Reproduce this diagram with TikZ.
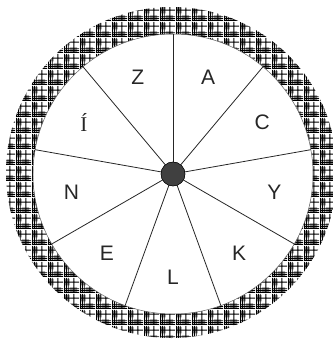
\documentclass[tikz,border=0pt]{standalone}
\usepackage{fontspec}
\setmainfont{Liberation Sans}
\newfontfamily\serifI{Liberation Serif}
\usetikzlibrary{patterns}
\pgfdeclarepatternformonly{plaidgray}{\pgfpointorigin}{\pgfpoint{16pt}{16pt}}{\pgfpoint{16pt}{16pt}}{%
  \pgfpathrectangle{\pgfpoint{6pt}{1pt}}{\pgfpoint{8pt}{5pt}}%
  \pgfpathrectangle{\pgfpoint{1pt}{8pt}}{\pgfpoint{5pt}{7pt}}%
  \pgfusepath{fill}}
\pgfdeclarepatternformonly{plaidblack}{\pgfpointorigin}{\pgfpoint{16pt}{16pt}}{\pgfpoint{16pt}{16pt}}{%
  \pgfpathrectangle{\pgfpoint{0pt}{0pt}}{\pgfpoint{1pt}{16pt}}%
  \pgfpathrectangle{\pgfpoint{2pt}{0pt}}{\pgfpoint{1pt}{16pt}}%
  \pgfpathrectangle{\pgfpoint{4pt}{0pt}}{\pgfpoint{1pt}{16pt}}%
  \pgfpathrectangle{\pgfpoint{10pt}{0pt}}{\pgfpoint{1pt}{16pt}}%
  \pgfpathrectangle{\pgfpoint{0pt}{0pt}}{\pgfpoint{16pt}{1pt}}%
  \pgfpathrectangle{\pgfpoint{0pt}{2pt}}{\pgfpoint{16pt}{1pt}}%
  \pgfpathrectangle{\pgfpoint{0pt}{4pt}}{\pgfpoint{16pt}{1pt}}%
  \pgfpathrectangle{\pgfpoint{0pt}{11pt}}{\pgfpoint{16pt}{1pt}}%
  \pgfusepath{fill}}
\tikzset{
  spoke/.style={draw=black!85, line width=0.8pt},
  letter/.style={font=\fontsize{21}{21}\selectfont, inner sep=0pt, text=black!85},
  hub/.style={circle, fill=black!75, draw=black, minimum size=24pt, inner sep=0pt}
}
\begin{document}
\begin{tikzpicture}[x=1pt,y=1pt]
\useasboundingbox (-173,-166) rectangle (159,174);
% ring
\fill[white, even odd rule] (-1.5,1.5) circle (165.5) (0,0) circle (140);
\path[pattern=plaidgray, pattern color=black!45, even odd rule] (-1.5,1.5) circle (165.5) (0,0) circle (140);
\path[pattern=plaidblack, pattern color=black, even odd rule] (-1.5,1.5) circle (165.5) (0,0) circle (140);
\draw[black!60, line width=0.5pt] (0,0) circle (140);
% spokes
\foreach \a [count=\i] in {90,50,10,-30,-70,-110,-150,170,130}
  \coordinate (r\i) at (\a:140);
\node[hub] (h) at (0,0) {};
\foreach \i in {1,...,9}
  \draw[spoke] (h.center) -- (r\i);
\node[hub] at (0,0) {};
% letters
\node[letter] (lZ) at (110:103) {Z};
\node[letter] (lA) at (70:103) {A};
\node[letter] (lC) at (30:103) {C};
\node[letter] (lY) at (-10:103) {Y};
\node[letter] (lK) at (-50:103) {K};
\node[letter] (lL) at (-90:103) {L};
\node[letter] (lE) at (-130:103) {E};
\node[letter] (lN) at (-170:103) {N};
\node[letter] (lI) at (150:103) {\serifI Í};
\end{tikzpicture}
\end{document}
